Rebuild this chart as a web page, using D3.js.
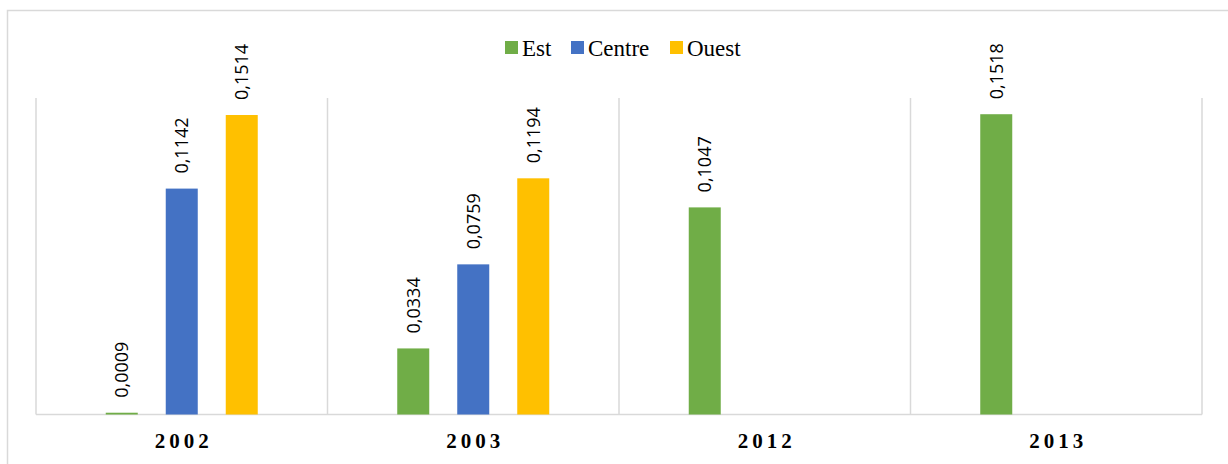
<!DOCTYPE html>
<html><head><meta charset="utf-8">
<script src="https://cdn.jsdelivr.net/npm/d3@7"></script>
<style>body{margin:0;background:#fff}svg{display:block}</style>
</head><body>
<svg id="c" width="1228" height="464"></svg>
<script>
const categories = ["2002", "2003", "2012", "2013"];
const seriesNames = ["Est", "Centre", "Ouest"];
const est    = [0.0009, 0.0334, 0.1047, 0.1518];
const centre = [0.1142, 0.0759, null, null];
const ouest  = [0.1514, 0.1194, null, null];
const colors = ["#70ad47", "#4472c4", "#ffc000"];
const yMax = 0.16;

const seriesValues = [est, centre, ouest];
const svg = d3.select("#c");
const W = 1228, H = 464;
const m = {left: 36, right: 26, top: 98, bottom: 49};
const plotBottom = H - m.bottom - 0.5;

svg.append("rect").attr("x", 7.5).attr("y", 10.5).attr("width", 1300).attr("height", 600)
  .attr("fill", "#fff").attr("stroke", "#d9d9d9").attr("stroke-width", 1.5);

const x0 = d3.scaleBand().domain(categories).range([m.left, W - m.right]).padding(0);
const x1 = d3.scaleBand().domain(seriesNames)
  .range([x0.bandwidth()/2 - 76, x0.bandwidth()/2 + 76]).paddingInner(28/60).paddingOuter(0);
const y = d3.scaleLinear().domain([0, yMax]).range([plotBottom, m.top]);

// vertical separators
const seps = categories.map(c => x0(c)).concat([x0.range()[1]]);
svg.append("g").selectAll("line").data(seps).join("line")
  .attr("x1", d => d).attr("x2", d => d).attr("y1", m.top).attr("y2", plotBottom)
  .attr("stroke", "#d9d9d9").attr("stroke-width", 1.5);
svg.append("line").attr("x1", m.left).attr("x2", W - m.right).attr("y1", plotBottom).attr("y2", plotBottom)
  .attr("stroke", "#d9d9d9").attr("stroke-width", 1.5);

const data = [];
categories.forEach((c, i) => seriesNames.forEach((s, j) => {
  const v = seriesValues[j][i];
  if (v !== null) data.push({c, s, v, color: colors[j]});
}));

const g = svg.append("g");
g.selectAll("rect").data(data).join("rect")
  .attr("x", d => x0(d.c) + x1(d.s)).attr("width", x1.bandwidth())
  .attr("y", d => y(d.v)).attr("height", d => plotBottom - y(d.v))
  .attr("fill", d => d.color);

g.selectAll("text").data(data).join("text")
  .attr("transform", d => `translate(${x0(d.c) + x1(d.s) + x1.bandwidth()/2},${y(d.v) - 15}) rotate(-90)`)
  .attr("dy", "0.35em").attr("text-anchor", "start")
  .attr("font-family", "'Open Sans', 'Noto Sans', sans-serif").attr("font-size", 18).attr("fill", "#000")
  .text(d => d.v.toFixed(4).replace(".", ","));

// x axis labels
const xAxis = d3.axisBottom(x0).tickSize(0).tickPadding(0);
const ax = svg.append("g").attr("transform", `translate(0,${plotBottom})`).call(xAxis);
ax.select(".domain").remove();
ax.selectAll("text").attr("y", 33).attr("dy", 0).attr("dx", 2)
  .attr("font-family", "'Liberation Serif', 'Times New Roman', serif").attr("font-size", 21)
  .attr("font-weight", "bold").attr("letter-spacing", "4px").attr("fill", "#000");

// legend
const legendItems = [
  {name: seriesNames[0], x: 505}, {name: seriesNames[1], x: 571}, {name: seriesNames[2], x: 670}
];
const lg = svg.append("g");
legendItems.forEach((it, i) => {
  lg.append("rect").attr("x", it.x).attr("y", 41).attr("width", 13).attr("height", 13).attr("fill", colors[i]);
  lg.append("text").attr("x", it.x + 17).attr("y", 56)
    .attr("font-family", "'Liberation Serif', 'Times New Roman', serif").attr("font-size", 23).attr("fill", "#000")
    .text(it.name);
});
</script>
</body></html>
